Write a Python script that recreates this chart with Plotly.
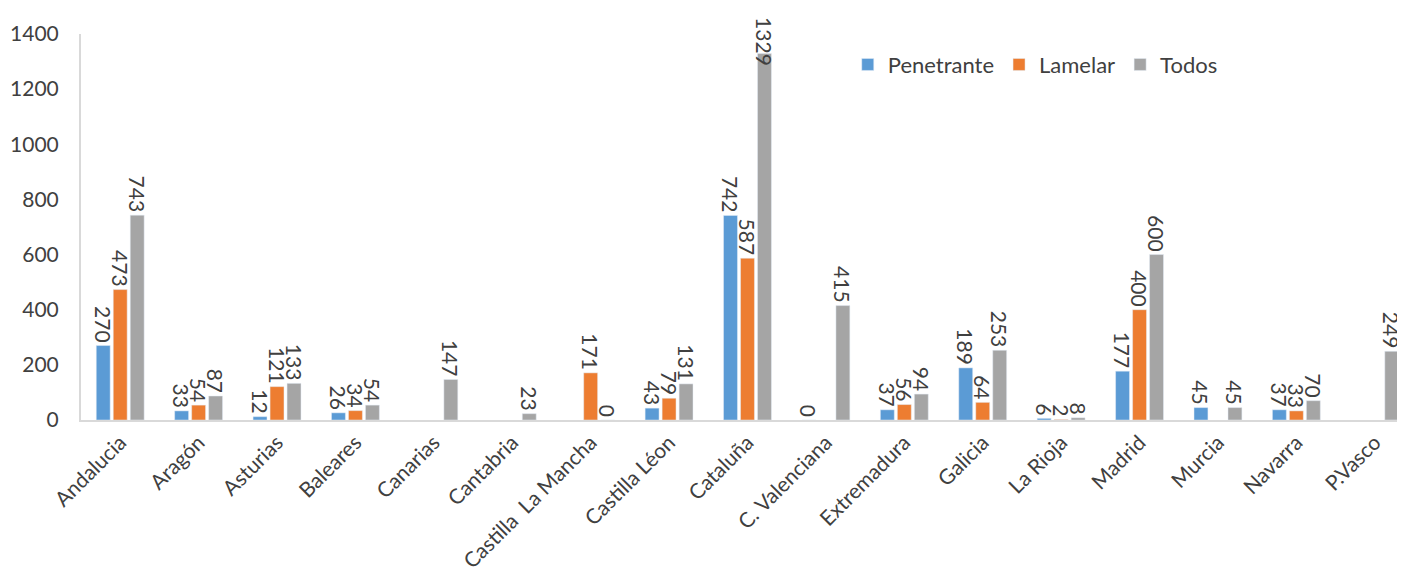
import plotly.graph_objects as go

categories = ["Andalucia", "Aragón", "Asturias", "Baleares", "Canarias", "Cantabria",
              "Castilla\u00a0 La Mancha", "Castilla Léon", "Cataluña", "C. Valenciana",
              "Extremadura", "Galicia", "La Rioja", "Madrid", "Murcia", "Navarra", "P.Vasco"]
penetrante = [270, 33, 12, 26, None, None, None, 43, 742, 0, 37, 189, 6, 177, 45, 37, None]
lamelar = [473, 54, 121, 34, None, None, 171, 79, 587, None, 56, 64, 2, 400, None, 33, None]
todos = [743, 87, 133, 54, 147, 23, 0, 131, 1329, 415, 94, 253, 8, 600, 45, 70, 249]

series = [("Penetrante", penetrante, "#5B9BD5"),
          ("Lamelar", lamelar, "#ED7D31"),
          ("Todos", todos, "#A5A5A5")]

FONT = "Lato, 'Open Sans', sans-serif"
TXT = "#404040"

# the tallest label does not fit above its bar (as in the original, it overlaps the bar top)
tall_idx = todos.index(max(todos))

fig = go.Figure()
for name, vals, col in series:
    labels = [("" if v is None else str(v)) for v in vals]
    if name == "Todos":
        labels[tall_idx] = ""
    fig.add_trace(go.Bar(
        name=name, x=categories, y=vals, marker_color=col,
        text=labels,
        textposition="outside", textangle=90, constraintext="none",
        cliponaxis=False,
        textfont=dict(family=FONT, size=21, color=TXT),
    ))

fig.add_annotation(
    x=categories[tall_idx], y=todos[tall_idx], text=str(todos[tall_idx]),
    showarrow=False, textangle=90, xanchor="center", yanchor="middle",
    xshift=17, yshift=12,
    font=dict(family=FONT, size=21, color=TXT),
)

fig.update_layout(
    width=1397, height=572,
    paper_bgcolor="white", plot_bgcolor="white",
    margin=dict(l=73, r=2, t=26, b=160, autoexpand=False),
    barmode="group", bargap=0.35, bargroupgap=0.18,
    font=dict(family=FONT, color=TXT),
    legend=dict(orientation="h", x=0.58, y=0.975, xanchor="left", yanchor="top",
                font=dict(family=FONT, size=22, color=TXT),
                bgcolor="rgba(0,0,0,0)", traceorder="normal"),
    showlegend=True,
)
fig.update_xaxes(range=[-0.5, 16.36], showline=True, linecolor="#D9D9D9", linewidth=2,
                 tickangle=-45, tickfont=dict(family=FONT, size=21, color=TXT),
                 showgrid=False, ticks="", automargin=False)
fig.update_yaxes(range=[0, 1400], dtick=200, showline=True, linecolor="#D9D9D9", linewidth=2,
                 showgrid=False, zeroline=False, ticks="", automargin=False,
                 ticklabelstandoff=16,
                 tickfont=dict(family=FONT, size=21, color=TXT))

fig.write_html("out.html")
